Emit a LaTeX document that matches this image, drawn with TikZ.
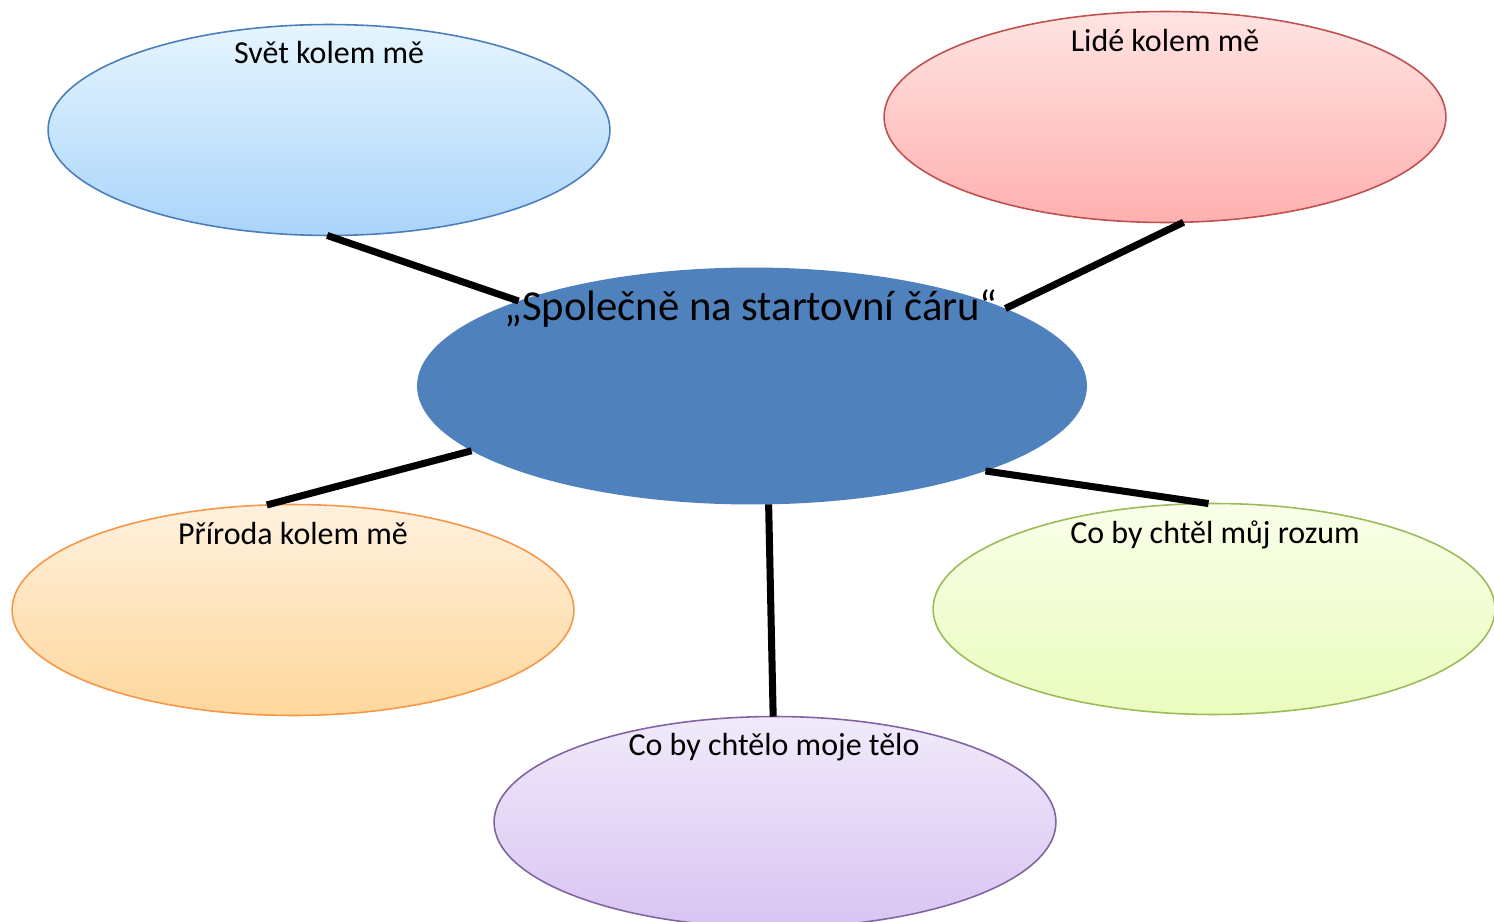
\documentclass[tikz,border=0pt]{standalone}
\usepackage{fontspec}
\setmainfont{Carlito}
\usetikzlibrary{shapes.geometric}
\definecolor{bluetop}{RGB}{230,245,254}
\definecolor{bluebot}{RGB}{170,212,250}
\definecolor{blueline}{RGB}{74,126,187}
\definecolor{redtop}{RGB}{255,228,226}
\definecolor{redbot}{RGB}{255,176,176}
\definecolor{redline}{RGB}{192,80,77}
\definecolor{ortop}{RGB}{255,241,222}
\definecolor{orbot}{RGB}{254,215,155}
\definecolor{orline}{RGB}{247,150,70}
\definecolor{grtop}{RGB}{249,254,232}
\definecolor{grbot}{RGB}{235,252,190}
\definecolor{grline}{RGB}{155,187,89}
\definecolor{putop}{RGB}{241,234,250}
\definecolor{pubot}{RGB}{216,196,242}
\definecolor{puline}{RGB}{128,100,162}
\definecolor{central}{RGB}{79,129,189}
\tikzset{
  oval/.style={ellipse, inner sep=0pt, outer sep=0pt, minimum width=11.24cm, minimum height=4.22cm, line width=0.9pt},
  lbl/.style={anchor=base, inner sep=0pt, font=\fontsize{18.2}{20}\selectfont},
  conn/.style={line width=4pt, black}
}
\begin{document}
\begin{tikzpicture}[x=0.02cm, y=-0.02cm]
\useasboundingbox (0,0) rectangle (1494,922);
\node[oval, draw=blueline, top color=bluetop, bottom color=bluebot] (svet) at (329,130) {};
\node[oval, draw=redline, top color=redtop, bottom color=redbot] (lide) at (1165,117) {};
\node[oval, draw=orline, top color=ortop, bottom color=orbot] (priroda) at (293,610) {};
\node[oval, draw=grline, top color=grtop, bottom color=grbot] (rozum) at (1214,609) {};
\node[oval, draw=puline, top color=putop, bottom color=pubot] (telo) at (775,822) {};
\node[ellipse, inner sep=0pt, outer sep=0pt, minimum width=13.4cm, minimum height=4.74cm, fill=central] (stred) at (752,386) {};
\draw[conn] (svet.-91) -- (stred.160.5);
\draw[conn] (lide.-80) -- (stred.17.5);
\draw[conn] (stred.-167) -- (priroda.104.7);
\draw[conn] (stred.-20.3) -- (rozum.93.8);
\draw[conn] (stred.-82.3) -- (telo.91);
\node[lbl] (tsvet) at (329,64) {Svět kolem mě};
\node[lbl] (tlide) at (1165,52) {Lidé kolem mě};
\node[lbl] (tpriroda) at (293,544) {Příroda kolem mě};
\node[lbl] (trozum) at (1215,543) {Co by chtěl můj rozum};
\node[lbl] (ttelo) at (774,755) {Co by chtělo moje tělo};
\node[anchor=base, inner sep=0pt, font=\fontsize{24.3}{26}\selectfont] (tstred) at (751,320) {„Společně na startovní čáru“};
\end{tikzpicture}
\end{document}
